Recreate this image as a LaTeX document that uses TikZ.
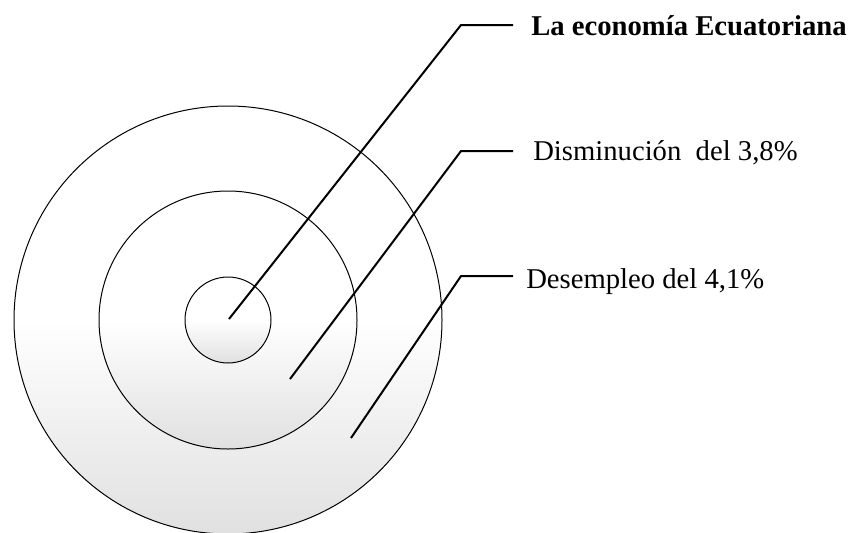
\documentclass[tikz,border=0pt]{standalone}
\usepackage{fontspec}
\setmainfont{Liberation Serif}
\usepackage{tikz}
\usetikzlibrary{shapes}

\tikzset{
	ring/.style={draw, circle, inner sep=0pt, outer sep=0pt, line width=0.75pt,
		top color=white, bottom color=black!12, middle color=white},
	leader/.style={line width=1.5pt},
	lbl/.style={anchor=base west, inner sep=0pt, font=\fontsize{21.5}{26}\selectfont},
}

\begin{document}
\begin{tikzpicture}[x=0.75pt, y=-0.75pt]
	\useasboundingbox (0,0) rectangle (859,532);
	\node[ring, minimum size=321pt] (outer) at (228,320) {};
	\node[ring, minimum size=193.5pt] (middle) at (228,320) {};
	\node[ring, minimum size=64.5pt] (inner) at (228,320) {};
	% labels
	\node[lbl, font=\fontsize{21.5}{26}\selectfont\bfseries] (econ) at (531,35) {La economía Ecuatoriana};
	\node[lbl] (dism) at (533,160) {Disminución\ \ del 3,8\%};
	\node[lbl] (desem) at (526,288) {Desempleo del 4,1\%};
	% leader lines
	\coordinate (start1) at (229,319);
	\coordinate (start2) at (290,379);
	\coordinate (start3) at (351,438);
	\coordinate (bend1) at (461,25);
	\coordinate (bend2) at (461,151);
	\coordinate (bend3) at (461,276);
	\draw[leader] (start1) -- (bend1) -- ([xshift=-13.5pt]econ.west |- bend1);
	\draw[leader] (start2) -- (bend2) -- ([xshift=-15pt]dism.west |- bend2);
	\draw[leader] (start3) -- (bend3) -- ([xshift=-9.75pt]desem.west |- bend3);
\end{tikzpicture}
\end{document}
